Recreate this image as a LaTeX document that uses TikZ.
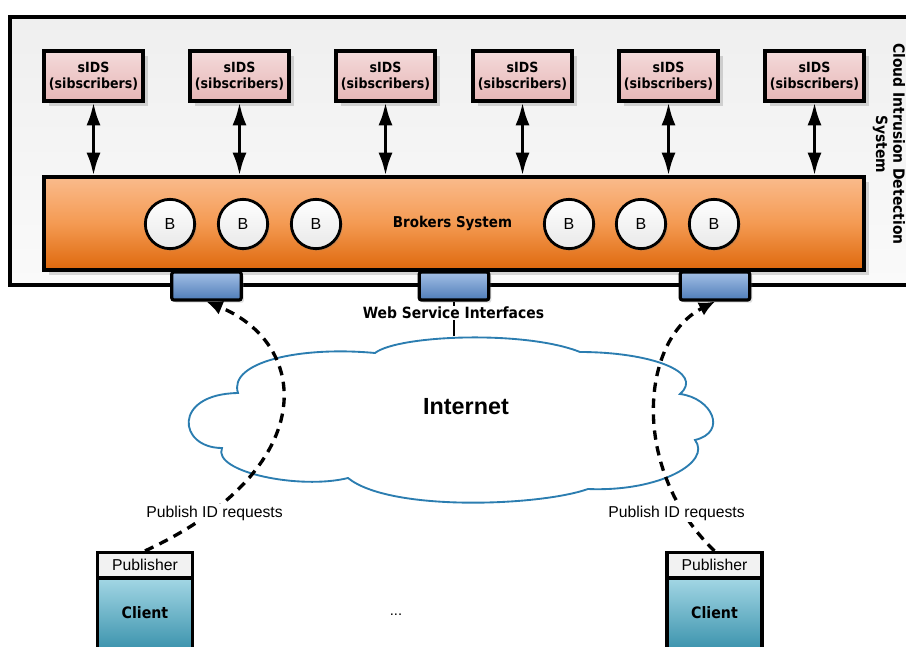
\documentclass[tikz,border=0pt]{standalone}
\usepackage{fontspec}
\setmainfont{Liberation Sans}
\newfontfamily\vfont{DejaVu Sans Condensed}
\usetikzlibrary{arrows.meta,shadows}
\definecolor{outerT}{HTML}{EFEFEF}
\definecolor{outerB}{HTML}{FAFAFA}
\definecolor{pinkT}{HTML}{F4DADA}
\definecolor{pinkB}{HTML}{E6B6B6}
\definecolor{orT}{HTML}{FABB8C}
\definecolor{orM}{HTML}{F49A52}
\definecolor{orB}{HTML}{DE680C}
\definecolor{blT}{HTML}{A4C0E6}
\definecolor{blB}{HTML}{4E7CB8}
\definecolor{clT}{HTML}{A2D6E4}
\definecolor{clB}{HTML}{3A92AC}
\definecolor{cloudline}{HTML}{2B7DB0}
\definecolor{pubfill}{HTML}{F2F2F2}
\begin{document}
\begin{tikzpicture}[x=0.75pt,y=-0.75pt,
  thickbox/.style={draw=black, line width=2.4pt},
  shad/.style={drop shadow={shadow xshift=3.5pt,shadow yshift=-3.5pt,opacity=0.3}},
  sids/.style={thickbox, shad, minimum width=74.25pt, minimum height=37.5pt,
    top color=pinkT, bottom color=pinkB, align=center, inner sep=0pt,
    font=\vfont\bfseries\fontsize{10.5}{12}\selectfont},
  broker/.style={thickbox, shad, minimum width=615pt, minimum height=69.75pt,
    top color=orT, bottom color=orB, middle color=orM},
  bcirc/.style={circle, draw=black, line width=2.1pt, minimum size=37pt,
    top color=white, bottom color=gray!18, inner sep=0pt,
    drop shadow={shadow xshift=1.5pt,shadow yshift=-1.5pt,opacity=0.25},
    font=\fontsize{12}{12}\selectfont},
  wsbox/.style={thickbox, rounded corners=1.5pt, minimum width=52pt, minimum height=21pt,
    top color=blT, bottom color=blB,
    drop shadow={shadow xshift=2pt,shadow yshift=-2pt,opacity=0.25}},
  dblarrow/.style={line width=2.4pt, {Latex[length=17pt,width=10.5pt]}-{Latex[length=17pt,width=10.5pt]}},
  reqarrow/.style={line width=2.5pt, dash pattern=on 7pt off 5pt, -{Latex[length=12pt,width=11pt]}},
  pubbox/.style={thickbox, fill=pubfill, minimum width=71.25pt, minimum height=18.75pt,
    inner sep=0pt, font=\fontsize{11.8}{13}\selectfont},
  clientbox/.style={thickbox, top color=clT, bottom color=clB, minimum width=71.25pt,
    minimum height=54pt, inner sep=0pt},
  reqlabel/.style={fill=white, inner sep=1pt, font=\fontsize{11.8}{13}\selectfont}
]
\useasboundingbox (0,0) rectangle (906,646);

% outer system box
\node[thickbox, top color=outerT, bottom color=outerB, minimum width=678pt,
  minimum height=201pt] (cids) at (462,151) {};

% subscribers
\node[sids] (s1) at (93.5,76) {sIDS\\(sibscribers)};
\node[sids] (s2) at (239.5,76) {sIDS\\(sibscribers)};
\node[sids] (s3) at (385.5,76) {sIDS\\(sibscribers)};
\node[sids] (s4) at (522.5,76) {sIDS\\(sibscribers)};
\node[sids] (s5) at (668.5,76) {sIDS\\(sibscribers)};
\node[sids] (s6) at (814.5,76) {sIDS\\(sibscribers)};

% brokers system
\node[broker] (br) at (454,223.5) {};
\node[font=\vfont\bfseries\fontsize{11.2}{13}\selectfont] (brl) at (452.5,223) {Brokers System};
\node[bcirc] (b1) at (170,224) {B};
\node[bcirc] (b2) at (243,224) {B};
\node[bcirc] (b3) at (316,224) {B};
\node[bcirc] (b4) at (569,224) {B};
\node[bcirc] (b5) at (641,224) {B};
\node[bcirc] (b6) at (714,224) {B};

\foreach \s in {s1,s2,s3,s4,s5,s6}{
  \draw[dblarrow] (\s.south) -- (\s.south |- br.north);
}

% title
\node[rotate=-90, align=center, font=\vfont\bfseries\fontsize{11.6}{13}\selectfont]
  (title) at (889,144) {Cloud Intrusion Detection\\System};

% web service interfaces
\node[wsbox] (ws1) at (206.5,286) {};
\node[wsbox] (ws2) at (454,286) {};
\node[wsbox] (ws3) at (715,286) {};

% cloud
\draw[cloudline, line width=1.4pt, fill=white]
  (375,353) .. controls (398,335) and (525,330) .. (580,352)
  .. controls (650,352) and (705,372) .. (680,394)
  .. controls (712,398) and (728,432) .. (695,440)
  .. controls (712,462) and (660,492) .. (588,489)
  .. controls (540,506) and (390,512) .. (348,478)
  .. controls (300,490) and (212,472) .. (222,448)
  .. controls (178,448) and (172,394) .. (238,393)
  .. controls (228,362) and (300,346) .. (375,353) -- cycle;
\coordinate (cloudtop) at (454,336);
\node[font=\bfseries\fontsize{17.5}{20}\selectfont] (inet) at (466,407) {Internet};

\draw[line width=1.8pt] (ws2.south) -- (cloudtop);
\node[fill=white, inner sep=1pt, font=\vfont\bfseries\fontsize{11.6}{13}\selectfont]
  (wsl) at (453.5,313) {Web Service Interfaces};

% clients
\node[clientbox, anchor=north] (c1) at (145,577) {};
\node[font=\vfont\bfseries\fontsize{11.8}{13}\selectfont] (c1l) at (145,613) {Client};
\node[pubbox] (p1) at (145,565) {Publisher};
\node[clientbox, anchor=north] (c2) at (714.5,577) {};
\node[font=\vfont\bfseries\fontsize{11.8}{13}\selectfont] (c2l) at (714.5,613) {Client};
\node[pubbox] (p2) at (714.5,565) {Publisher};

\node[font=\fontsize{11}{12}\selectfont] (dots) at (396,615) {...};

% requests
\draw[reqarrow] (p1.north) .. controls (320,470) and (312,345) .. (ws1.south);
\draw[reqarrow] (p2.north) .. controls (630,470) and (640,340) .. (ws3.south);
\node[reqlabel] (r1) at (214.5,513) {Publish ID requests};
\node[reqlabel] (r2) at (676.5,513) {Publish ID requests};
\end{tikzpicture}
\end{document}
